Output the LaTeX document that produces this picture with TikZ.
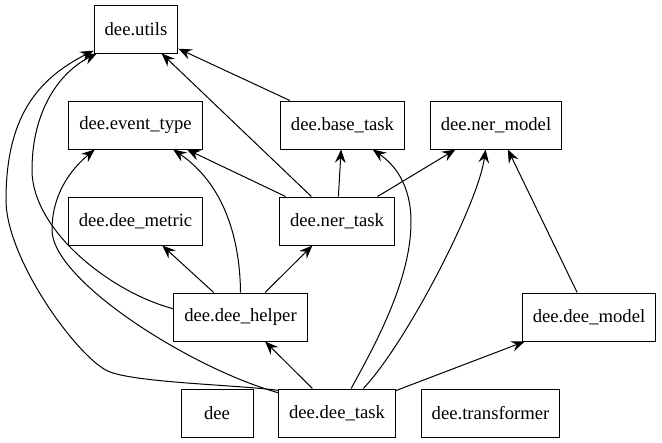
\documentclass[tikz,border=0pt]{standalone}
\usepackage{fontspec}
\setmainfont{Liberation Serif}
\usetikzlibrary{arrows.meta}

\tikzset{
    module/.style={rectangle,draw,line width=0.75pt,minimum height=36pt,minimum width=54pt,inner xsep=7.9pt,font=\fontsize{14}{16}\selectfont},
    dep/.style={-{Stealth[length=10pt,width=8pt,inset=3.5pt]},line width=0.75pt}
}

\begin{document}
\begin{tikzpicture}[x=0.75pt,y=-0.75pt]
            \useasboundingbox (0,0) rectangle (662,443);
            \node [module] (utils) at (136,29) {dee.utils};
            \node [module] (etype) at (135.5,125) {dee.event\_type};
            \node [module] (btask) at (342.5,125) {dee.base\_task};
            \node [module] (nmodel) at (496,125) {dee.ner\_model};
            \node [module] (metric) at (135.5,221) {dee.dee\_metric};
            \node [module] (ntask) at (337,221) {dee.ner\_task};
            \node [module] (helper) at (240.5,317) {dee.dee\_helper};
            \node [module] (dmodel) at (589,317) {dee.dee\_model};
            \node [module] (dee) at (217,413) {dee};
            \node [module] (dtask) at (337,413) {dee.dee\_task};
            \node [module] (trans) at (490.5,413) {dee.transformer};

            \path[dep]
            (btask) edge (utils)
            (ntask) edge (utils)
            (ntask) edge (etype)
            (ntask) edge (btask)
            (ntask) edge (nmodel)
            (helper) edge (metric)
            (helper) edge (ntask)
            (dtask) edge (helper)
            (dtask) edge (dmodel)
            (dmodel) edge (nmodel)
            ;

            \draw[dep] (helper.north) .. controls (240,240) and (225,185) .. (etype.-33);
            \draw[dep] (helper.173) .. controls (110,292) and (32,230) .. (32,170) .. controls (32,110) and (60,72) .. (utils.-148);
            \draw[dep] (dtask.159) .. controls (240,385) and (140,383) .. (110,372) .. controls (80,361) and (6,260) .. (6,200) .. controls (6,120) and (35,80) .. (utils.-153);
            \draw[dep] (dtask.161) .. controls (190,368) and (52,280) .. (52,230) .. controls (52,195) and (70,170) .. (etype.-149);
            \draw[dep] (dtask.60) .. controls (375,345) and (411,280) .. (411,222) .. controls (411,185) and (395,165) .. (btask.-39);
            \draw[dep] (dtask.43) .. controls (405,345) and (478,205) .. (nmodel.-113);

        \end{tikzpicture}
\end{document}
